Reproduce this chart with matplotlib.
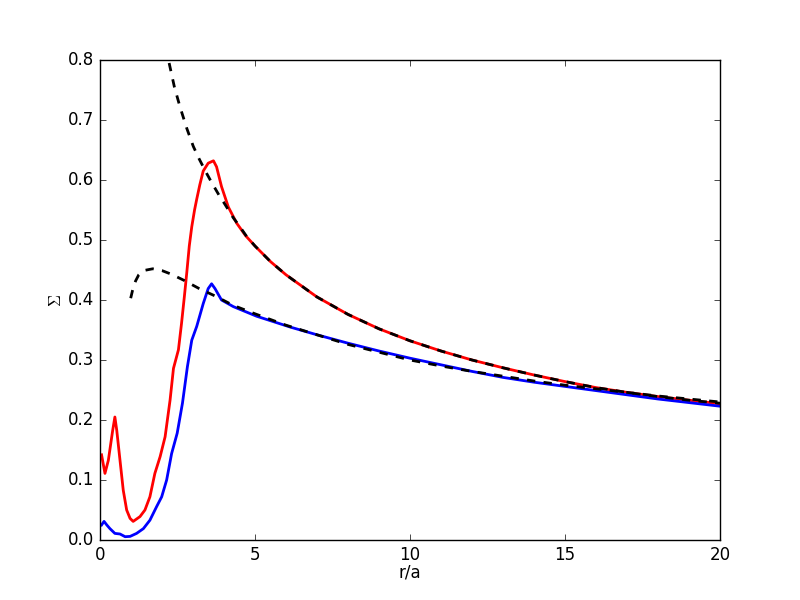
import matplotlib
matplotlib.use("Agg")
import matplotlib.pyplot as plt

plt.style.use('classic')

# red curve (surface density, run 1)
r_red = [0.05, 0.16, 0.27, 0.41, 0.48, 0.54, 0.645, 0.75, 0.86, 0.97, 1.07, 1.29, 1.45, 1.61,
         1.77, 1.94, 2.10, 2.26, 2.37, 2.53, 2.63, 2.72, 2.80, 2.88, 2.96, 3.05, 3.12, 3.22,
         3.33, 3.49, 3.66, 3.76, 3.92, 4.14, 4.41, 4.70, 5.0, 5.5, 6.0, 7.0, 8.0, 9.0, 10.0,
         11.0, 12.0, 13.0, 14.0, 15.0, 16.0, 17.0, 18.0, 19.0, 20.0]
sig_red = [0.142, 0.111, 0.133, 0.183, 0.205, 0.183, 0.133, 0.083, 0.050, 0.036, 0.031, 0.039,
           0.050, 0.072, 0.111, 0.139, 0.172, 0.233, 0.286, 0.317, 0.361, 0.405, 0.446, 0.490,
           0.522, 0.550, 0.568, 0.592, 0.615, 0.628, 0.632, 0.622, 0.589, 0.555, 0.528, 0.507,
           0.490, 0.464, 0.442, 0.405, 0.376, 0.352, 0.332, 0.315, 0.300, 0.287, 0.275, 0.264,
           0.254, 0.246, 0.239, 0.233, 0.227]

# blue curve (run 2)
r_blue = [0.05, 0.13, 0.22, 0.32, 0.48, 0.645, 0.81, 0.97, 1.18, 1.40, 1.61, 1.83, 1.99, 2.15,
          2.31, 2.49, 2.66, 2.82, 2.96, 3.12, 3.33, 3.49, 3.60, 3.71, 3.92, 4.30, 5.05, 6.13,
          7.0, 8.0, 9.0, 10.0, 11.0, 12.0, 13.0, 14.0, 15.0, 16.0, 17.0, 18.0, 19.0, 20.0]
sig_blue = [0.025, 0.031, 0.025, 0.019, 0.011, 0.010, 0.0055, 0.006, 0.011, 0.019, 0.033, 0.056,
            0.072, 0.100, 0.144, 0.178, 0.228, 0.289, 0.333, 0.356, 0.394, 0.419, 0.427, 0.419,
            0.400, 0.389, 0.373, 0.355, 0.342, 0.328, 0.315, 0.303, 0.292, 0.281, 0.271, 0.263,
            0.256, 0.249, 0.242, 0.235, 0.229, 0.223]

# dashed reference profiles
r_ref1 = [2.23, 2.4, 2.58, 2.8, 3.01, 3.2, 3.44, 3.6, 3.87, 4.0, 4.3, 4.5, 4.73, 5.0, 5.5,
          6.0, 7.0, 8.0, 9.0, 10.0, 11.0, 12.0, 13.0, 14.0, 15.0, 16.0, 17.0, 18.0, 19.0, 20.0]
sig_ref1 = [0.795, 0.755, 0.722, 0.686, 0.656, 0.635, 0.611, 0.596, 0.572, 0.562, 0.537, 0.523,
            0.506, 0.490, 0.464, 0.442, 0.405, 0.376, 0.352, 0.332, 0.315, 0.300, 0.287,
            0.275, 0.264, 0.254, 0.246, 0.239, 0.233, 0.228]

r_ref2 = [0.99, 1.05, 1.1, 1.15, 1.25, 1.4, 1.7, 2.0, 2.3, 2.7, 3.2, 3.7, 4.3, 5.0, 6.0, 7.0,
          8.0, 9.0, 10.0, 11.0, 12.0, 13.0, 14.0, 15.0, 16.0, 17.0, 18.0, 19.0, 20.0]
sig_ref2 = [0.403, 0.416, 0.425, 0.432, 0.442, 0.449, 0.452, 0.449, 0.443, 0.433, 0.419, 0.407,
            0.391, 0.377, 0.358, 0.342, 0.326, 0.313, 0.300, 0.290, 0.281, 0.273, 0.265, 0.258,
            0.252, 0.246, 0.240, 0.235, 0.230]

fig = plt.figure(figsize=(8, 6), dpi=100)
ax = fig.add_subplot(111)
ax.plot(r_red, sig_red, 'r-', lw=2)
ax.plot(r_blue, sig_blue, 'b-', lw=2)
ax.plot(r_ref1, sig_ref1, 'k--', lw=2)
ax.plot(r_ref2, sig_ref2, 'k--', lw=2)
ax.set_xlim(0, 20)
ax.set_ylim(0, 0.8)
ax.set_xlabel('r/a', labelpad=0)
ax.set_ylabel(r'$\Sigma$', labelpad=2)
fig.savefig('out.png', dpi=100)
